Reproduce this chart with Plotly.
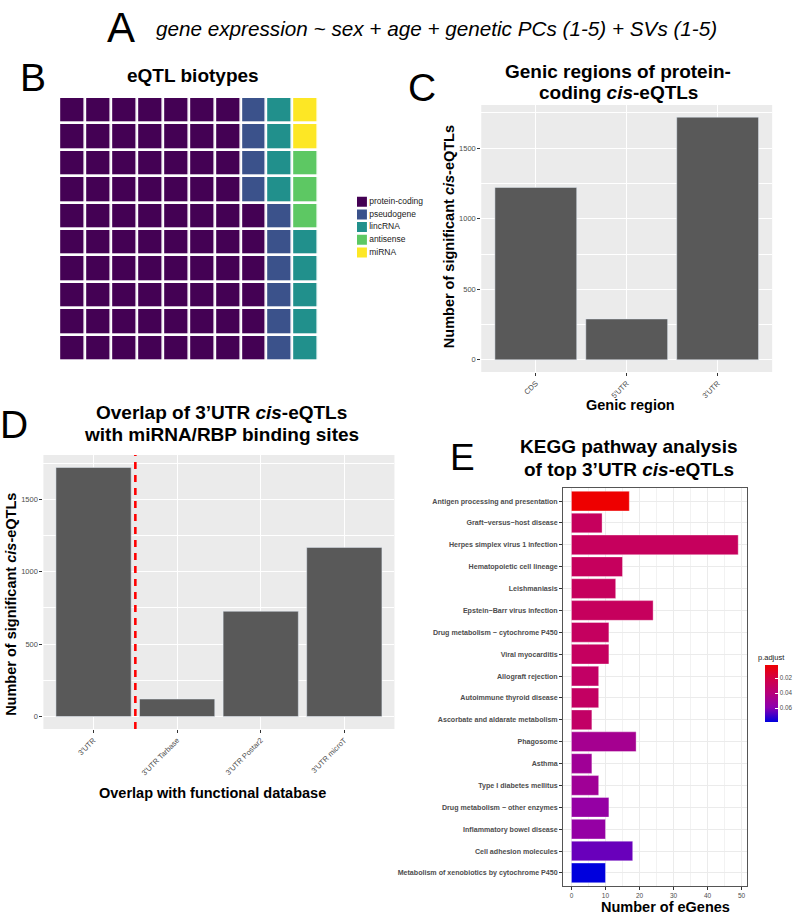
import plotly.graph_objects as go

W, H = 796, 914
FONT = "Liberation Sans, Arial, Helvetica, sans-serif"
TICK_GREY = "#4D4D4D"
AXIS_DARK = "#333333"


def px(x):
    return x / W


def py(y):
    return 1 - y / H


# ---- B: eQTL biotypes (waffle, 100 squares) ----
biotypes = ["protein-coding", "pseudogene", "lincRNA", "antisense", "miRNA"]
biotype_counts = [76, 10, 9, 3, 2]
biotype_colors = ["#440154", "#3B528B", "#21908C", "#5DC863", "#FDE725"]

# ---- C: genic regions of protein-coding cis-eQTLs ----
genic_regions = ["CDS", "5'UTR", "3'UTR"]
genic_counts = [1222, 290, 1720]

# ---- D: overlap with miRNA/RBP binding sites ----
overlap_sets = ["3'UTR", "3'UTR Tarbase", "3'UTR Postar2", "3'UTR microT"]
overlap_counts = [1720, 121, 727, 1168]

# ---- E: KEGG pathways ----
kegg_terms = [
    "Antigen processing and presentation",
    "Graft\u2212versus\u2212host disease",
    "Herpes simplex virus 1 infection",
    "Hematopoietic cell lineage",
    "Leishmaniasis",
    "Epstein\u2212Barr virus infection",
    "Drug metabolism \u2212 cytochrome P450",
    "Viral myocarditis",
    "Allograft rejection",
    "Autoimmune thyroid disease",
    "Ascorbate and aldarate metabolism",
    "Phagosome",
    "Asthma",
    "Type I diabetes mellitus",
    "Drug metabolism \u2212 other enzymes",
    "Inflammatory bowel disease",
    "Cell adhesion molecules",
    "Metabolism of xenobiotics by cytochrome P450",
]
kegg_counts = [17, 9, 49, 15, 13, 24, 11, 11, 8, 8, 6, 19, 6, 8, 11, 10, 18, 10]
kegg_padj = [0.0023, 0.029, 0.029, 0.029, 0.029, 0.029, 0.030, 0.030, 0.032,
             0.031, 0.032, 0.048, 0.050, 0.050, 0.055, 0.055, 0.064, 0.0783]
padj_ticks = [0.02, 0.04, 0.06]

fig = go.Figure()

# waffle grid, filled column by column from the bottom
cells = []
for k, n in enumerate(biotype_counts):
    cells += [k] * n
z = [[None] * 10 for _ in range(10)]
for i, k in enumerate(cells):
    z[i % 10][i // 10] = k

nb = len(biotypes)
scale = []
for k, c in enumerate(biotype_colors):
    scale.append([k / nb, c])
    scale.append([(k + 1) / nb, c])
fig.add_trace(go.Heatmap(z=z, x=list(range(10)), y=list(range(10)),
                         zmin=-0.5, zmax=nb - 0.5, colorscale=scale,
                         showscale=False, xgap=2.7, ygap=2.7,
                         hoverinfo="skip", xaxis="x", yaxis="y"))

# waffle legend
fig.add_trace(go.Scatter(x=[0] * nb, y=list(range(nb)), mode="markers+text",
                         marker=dict(symbol="square", size=10, color=biotype_colors),
                         text=biotypes, textposition="middle right",
                         textfont=dict(size=8.5, color="#1A1A1A"),
                         hoverinfo="skip", xaxis="x5", yaxis="y5"))

# C bars
fig.add_trace(go.Bar(x=genic_regions, y=genic_counts, marker_color="#595959",
                     width=0.9, xaxis="x2", yaxis="y2"))

# D bars
fig.add_trace(go.Bar(x=overlap_sets, y=overlap_counts, marker_color="#595959",
                     width=0.9, xaxis="x3", yaxis="y3"))

# E bars (colour on negated p so that low p sits at the top of the bar)
neg = [-p for p in kegg_padj]
fig.add_trace(go.Bar(
    x=kegg_counts, y=kegg_terms, orientation="h", width=0.9,
    marker=dict(
        color=neg, cmin=min(neg), cmax=max(neg),
        colorscale=[[0, "#0000DD"], [0.25, "#8B00B0"], [0.5, "#B6007B"],
                    [0.75, "#D10048"], [1, "#EE0000"]],
        line=dict(color="rgba(255,255,255,0.6)", width=0.6),
        colorbar=dict(
            x=px(776), xanchor="left", xpad=0,
            y=py(693.5), yanchor="middle", ypad=0,
            len=57 / H, lenmode="fraction", thickness=13, outlinewidth=0,
            tickvals=[-t for t in padj_ticks],
            ticktext=[f"{t:.2f}" for t in padj_ticks],
            ticks="inside", ticklen=3, tickcolor="white",
            tickfont=dict(size=6.3, color=TICK_GREY, family=FONT),
        ),
    ),
    xaxis="x4", yaxis="y4"))

c_max = max(genic_counts)
d_max = max(overlap_counts)
e_max = max(kegg_counts)

gray_axis = dict(showgrid=True, gridcolor="white", gridwidth=1.1, zeroline=False,
                 ticks="outside", ticklen=3, tickwidth=0.8, tickcolor=AXIS_DARK,
                 tickfont=dict(size=7.5, color=TICK_GREY, family=FONT), fixedrange=True)

fig.update_layout(
    width=W, height=H, margin=dict(l=0, r=0, t=0, b=0),
    paper_bgcolor="white", plot_bgcolor="white", showlegend=False,
    font=dict(family=FONT, color="black"),
    xaxis=dict(domain=[px(60), px(323)], range=[-0.5, 9.5], visible=False, anchor="y"),
    yaxis=dict(domain=[py(361), py(97)], range=[-0.5, 9.5], visible=False, anchor="x"),
    xaxis5=dict(domain=[px(362), px(462)], range=[-0.5, 9.5], visible=False, anchor="y5"),
    yaxis5=dict(domain=[py(258.85), py(195.35)], range=[nb - 0.5, -0.5],
                visible=False, anchor="x5"),
    xaxis2=dict(gray_axis, domain=[px(488), px(783)], range=[-0.6, 2.6],
                tickangle=-45, anchor="y2"),
    yaxis2=dict(gray_axis, domain=[py(372), py(105)],
                range=[-0.05 * c_max, 1.05 * c_max], dtick=500, tick0=0,
                minor=dict(dtick=250, tick0=0, showgrid=True, gridcolor="white",
                           gridwidth=0.5),
                anchor="x2"),
    xaxis3=dict(gray_axis, domain=[px(44), px(400)], range=[-0.6, 3.6],
                tickangle=-45, anchor="y3"),
    yaxis3=dict(gray_axis, domain=[py(729), py(455)],
                range=[-0.05 * d_max, 1.05 * d_max], dtick=500, tick0=0,
                minor=dict(dtick=250, tick0=0, showgrid=True, gridcolor="white",
                           gridwidth=0.5),
                anchor="x3"),
    xaxis4=dict(domain=[px(571), px(757)], range=[-0.05 * e_max, 1.05 * e_max],
                dtick=10, tick0=0, showgrid=True, gridcolor="#EBEBEB", gridwidth=0.9,
                minor=dict(dtick=5, tick0=0, showgrid=True, gridcolor="#F2F2F2",
                           gridwidth=0.5),
                zeroline=False, showline=True, mirror=True, linecolor="#555555",
                linewidth=1, ticks="outside", ticklen=3, tickwidth=0.8,
                tickcolor=AXIS_DARK, tickfont=dict(size=6.5, color=TICK_GREY),
                anchor="y4", fixedrange=True),
    yaxis4=dict(domain=[py(886), py(488)], type="category",
                categoryorder="array", categoryarray=kegg_terms,
                range=[len(kegg_terms) - 0.4, -0.6],
                showgrid=True, gridcolor="#EBEBEB", gridwidth=0.9,
                zeroline=False, showline=True, mirror=True, linecolor="#555555",
                linewidth=1, ticks="outside", ticklen=3, tickwidth=0.8,
                tickcolor=AXIS_DARK,
                tickfont=dict(size=7.1, color=TICK_GREY, weight="bold"),
                anchor="x4", fixedrange=True),
)

# grey panel backgrounds for C and D
for ax in ["2", "3"]:
    fig.add_shape(type="rect", xref=f"x{ax} domain", yref=f"y{ax} domain",
                  x0=0, x1=1, y0=0, y1=1, fillcolor="#EBEBEB",
                  line=dict(width=0), layer="below")

# red dashed divider after the full 3'UTR set in D
split = overlap_sets.index("3'UTR") + 0.5
fig.add_shape(type="line", xref="x3", yref="y3 domain", x0=split, x1=split,
              y0=0, y1=1, line=dict(color="#FF0000", width=2.6, dash="7px,6px"))


def note(text, x, y, size, xanchor="center", angle=0, color="black"):
    fig.add_annotation(text=text, x=px(x), y=py(y), xref="paper", yref="paper",
                       xanchor=xanchor, yanchor="middle", showarrow=False,
                       textangle=angle, font=dict(size=size, color=color, family=FONT))


# panel letters
note("A", 123, 27, 42)
note("<i>gene expression ~ sex + age + genetic PCs (1-5) + SVs (1-5)</i>", 156, 29, 20.7,
     xanchor="left")
note("B", 33.5, 77.5, 39)
note("C", 427.5, 87.5, 39)
note("D", 14, 424, 39)
note("E", 469, 457, 37)

# panel titles
note("<b>eQTL biotypes</b>", 196, 76, 19)
note("<b>Genic regions of protein-</b>", 627, 71, 19)
note("<b>coding <i>cis</i>-eQTLs</b>", 627, 92, 19)
note("<b>Overlap of 3\u2019UTR <i>cis</i>-eQTLs</b>", 225, 412, 19)
note("<b>with miRNA/RBP binding sites</b>", 225, 435, 19)
note("<b>KEGG pathway analysis</b>", 638, 447, 19)
note("<b>of top 3\u2019UTR <i>cis</i>-eQTLs</b>", 638, 469, 19)

# axis titles
note("<b>Genic region</b>", 639, 405, 14.5)
note("<b>Number of significant <i>cis</i>-eQTLs</b>", 456, 236.5, 14.5, angle=-90)
note("<b>Overlap with functional database</b>", 215.5, 793, 14.5)
note("<b>Number of significant <i>cis</i>-eQTLs</b>", 11, 604, 14.5, angle=-90)
note("<b>Number of eGenes</b>", 675, 907, 14.5)
note("p.adjust", 767, 657, 7.5, xanchor="left", color="#1A1A1A")

fig.write_html("out.html", config={"displayModeBar": False},
               post_script="document.body.style.margin='0px';")
